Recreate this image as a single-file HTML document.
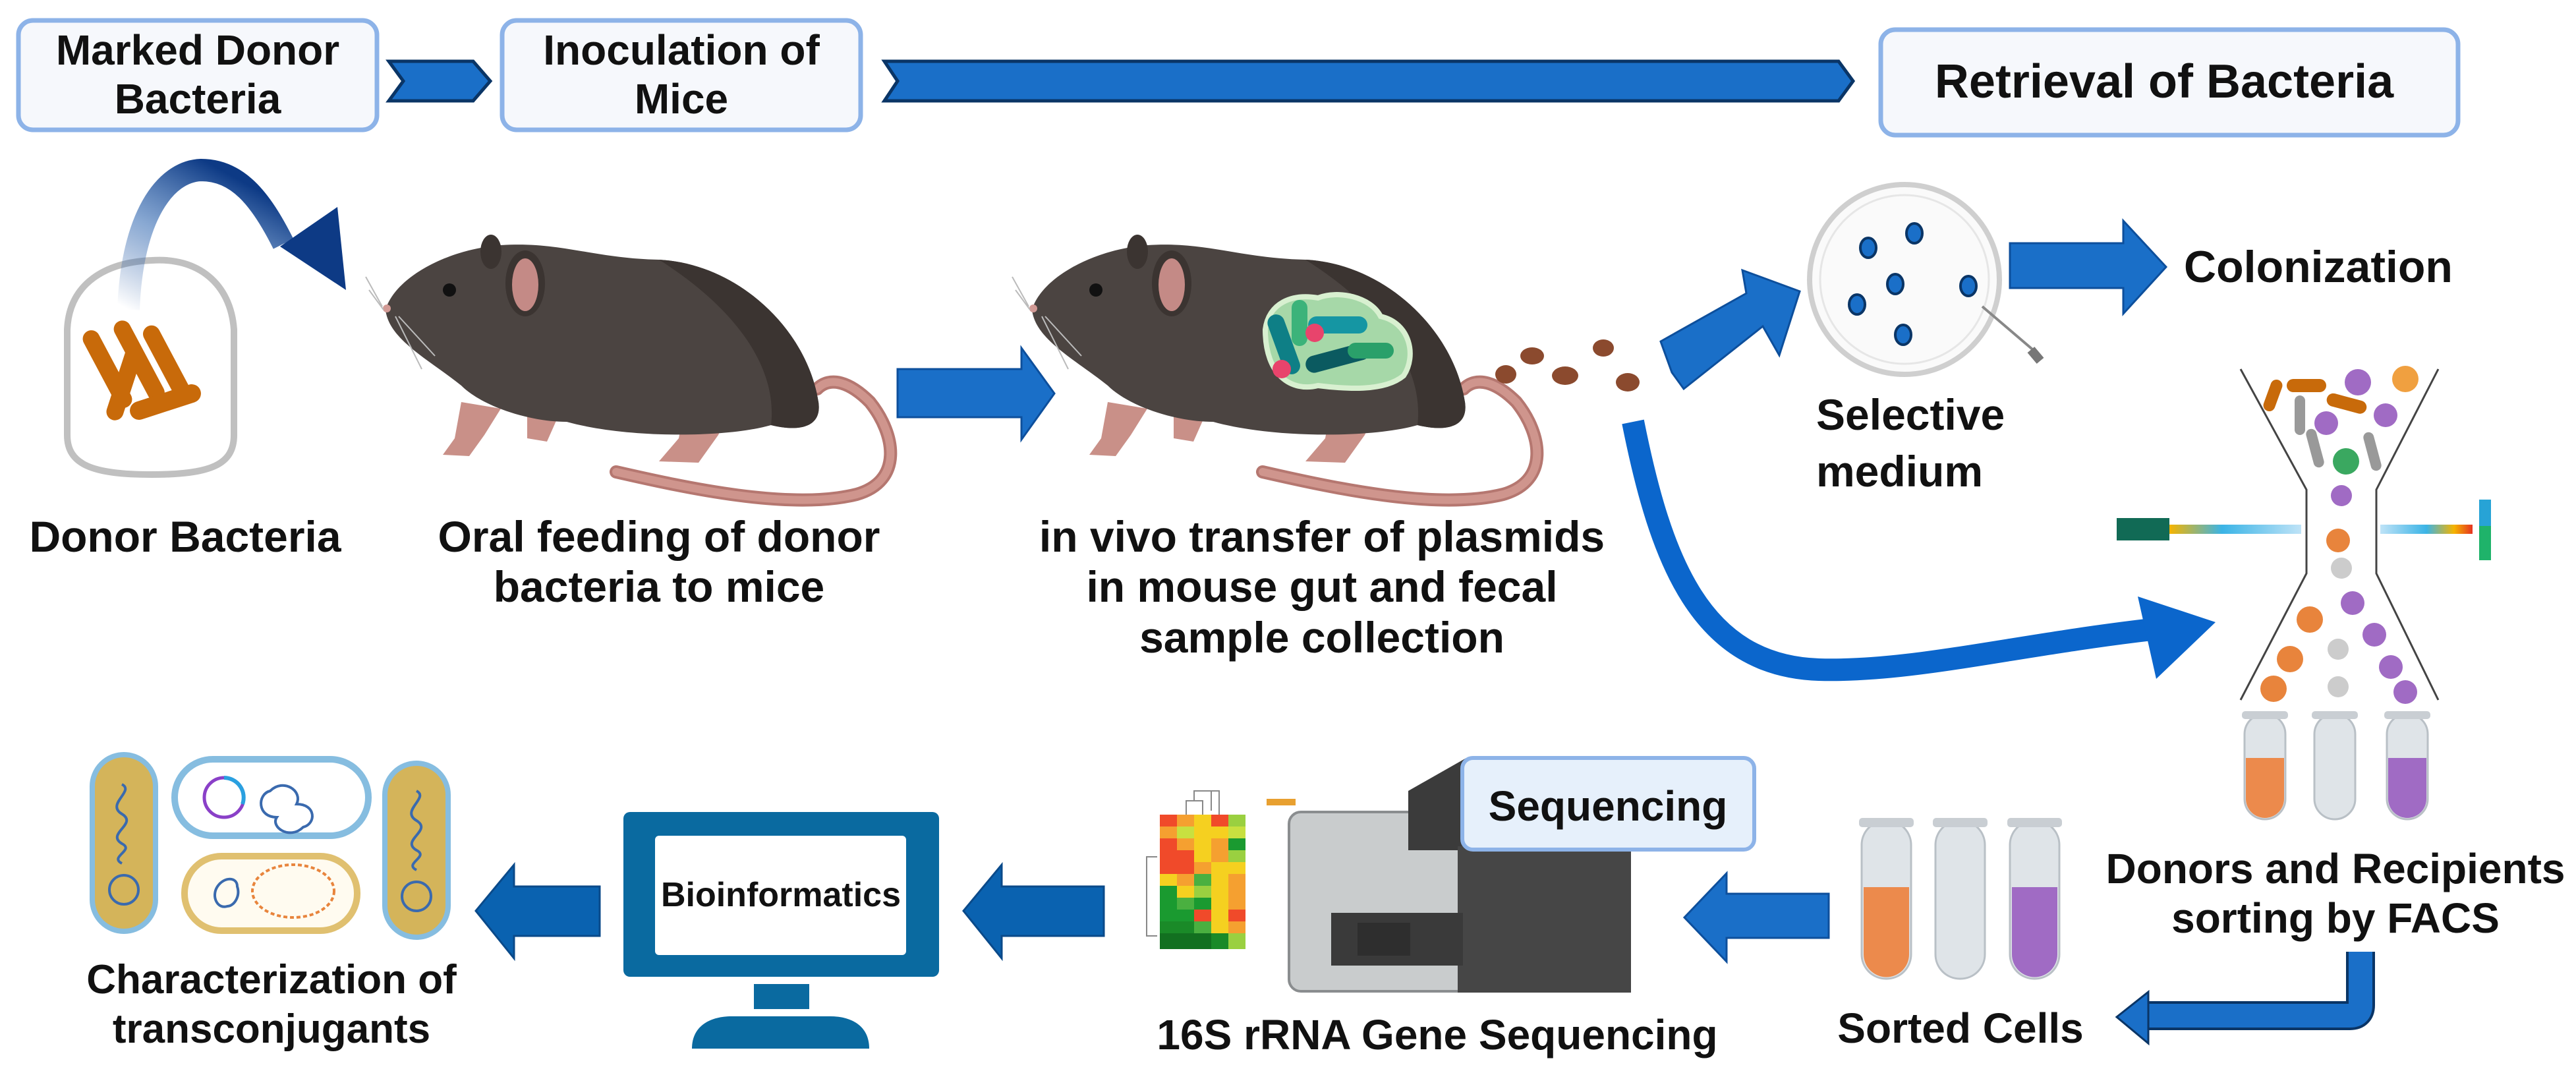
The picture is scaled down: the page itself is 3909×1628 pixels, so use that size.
<!DOCTYPE html>
<html><head><meta charset="utf-8"><style>
html,body{margin:0;padding:0;background:#fff}
svg{display:block}
text{font-family:"Liberation Sans",Arial,sans-serif;font-weight:bold;fill:#111}
</style></head><body>
<svg width="3909" height="1628" viewBox="0 0 3909 1628" xmlns="http://www.w3.org/2000/svg">
<defs>
<linearGradient id="fade" x1="0" y1="1" x2="0.6" y2="0">
<stop offset="0" stop-color="#1c4f9c" stop-opacity="0"/>
<stop offset="0.5" stop-color="#3a6fb5" stop-opacity="0.6"/>
<stop offset="1" stop-color="#0d3a85"/>
</linearGradient>
<linearGradient id="beamL" x1="0" x2="1"><stop offset="0" stop-color="#f5b400"/><stop offset="0.4" stop-color="#3bb4e6"/><stop offset="1" stop-color="#bfe3f7"/></linearGradient>
<linearGradient id="beamR" x1="0" x2="1"><stop offset="0" stop-color="#bfe3f7"/><stop offset="0.5" stop-color="#3bb4e6"/><stop offset="0.8" stop-color="#f5b400"/><stop offset="1" stop-color="#e53322"/></linearGradient>
<g id="mouse">
<path d="M935,716 C1040,740 1200,775 1300,750 C1370,730 1360,660 1320,610 C1290,580 1260,570 1240,590" fill="none" stroke="#b57770" stroke-width="20" stroke-linecap="round"/>
<path d="M935,716 C1040,740 1200,775 1300,750 C1370,730 1360,660 1320,610 C1290,580 1260,570 1240,590" fill="none" stroke="#cf958d" stroke-width="12" stroke-linecap="round"/>
<path d="M700,610 L690,665 L672,690 L712,692 L735,660 L760,620 Z" fill="#c99088"/>
<path d="M1040,610 L1030,665 L1000,700 L1060,702 L1090,660 L1110,615 Z" fill="#c99088"/>
<path d="M800,620 L800,665 L830,670 L850,625 Z" fill="#c99088"/>
<path d="M585,470 C600,420 680,378 760,372 C850,366 900,392 1000,394 C1120,400 1225,500 1242,610 C1248,650 1210,655 1170,645 C1100,665 950,665 860,640 C800,640 730,615 700,585 C650,545 590,515 585,470 Z" fill="#4b4441"/>
<path d="M1000,394 C1120,400 1225,500 1242,610 C1248,650 1210,655 1170,645 C1180,560 1120,470 1000,394 Z" fill="#3b3431"/>
<ellipse cx="745" cy="382" rx="16" ry="26" fill="#3b3431"/>
<ellipse cx="797" cy="430" rx="30" ry="50" fill="#3b3431"/>
<ellipse cx="797" cy="432" rx="20" ry="40" fill="#c48a86"/>
<circle cx="682" cy="440" r="10" fill="#111"/>
<circle cx="587" cy="468" r="6" fill="#d29a95"/>
<path d="M580,465 L555,420 M582,470 L560,440 M600,480 L640,560 M605,480 L660,540" stroke="#bbb" stroke-width="2" fill="none"/>
</g>
<g id="tube">
<rect x="0" y="0" width="75" height="240" rx="37" fill="#dfe4e8" stroke="#b9c0c6" stroke-width="3"/>
<rect x="-4" y="-4" width="83" height="14" rx="5" fill="#c9ced3"/>
</g>
<g id="stube">
<rect x="0" y="0" width="62" height="160" rx="31" fill="#dfe4e8" stroke="#b9c0c6" stroke-width="3"/>
<rect x="-4" y="-4" width="70" height="12" rx="5" fill="#c9ced3"/>
</g>
</defs>

<!-- top row -->
<rect x="28" y="31" width="544" height="166" rx="22" fill="#f6f8fc" stroke="#8db3e8" stroke-width="7"/>
<text x="300" y="98" font-size="64" text-anchor="middle">Marked Donor</text>
<text x="300" y="172" font-size="64" text-anchor="middle">Bacteria</text>
<polygon points="590,93 718,93 744,123 718,153 590,153 612,123" fill="#1a6fc8" stroke="#0a3566" stroke-width="5"/>
<rect x="762" y="31" width="544" height="166" rx="22" fill="#f6f8fc" stroke="#8db3e8" stroke-width="7"/>
<text x="1034" y="98" font-size="64" text-anchor="middle">Inoculation of</text>
<text x="1034" y="172" font-size="64" text-anchor="middle">Mice</text>
<polygon points="1342,93 2790,93 2812,123 2790,153 1342,153 1362,123" fill="#1a6fc8" stroke="#0a3566" stroke-width="5"/>
<rect x="2854" y="45" width="876" height="160" rx="22" fill="#f6f8fc" stroke="#8db3e8" stroke-width="7"/>
<text x="3284" y="148" font-size="72" text-anchor="middle">Retrieval of Bacteria</text>

<!-- donor bag -->
<path d="M230,395 C300,390 350,430 355,500 L355,660 C355,705 320,720 230,720 C140,720 102,705 102,660 L102,500 C105,430 160,398 230,395 Z" fill="#fff" stroke="#c0c0c0" stroke-width="10"/>
<g fill="#c86a0a">
<rect x="150" y="495" width="26" height="130" rx="13" transform="rotate(-28 163 560)"/>
<rect x="198" y="480" width="26" height="135" rx="13" transform="rotate(-28 211 547)"/>
<rect x="240" y="488" width="26" height="125" rx="13" transform="rotate(-28 253 550)"/>
<rect x="176" y="520" width="26" height="120" rx="13" transform="rotate(18 189 580)"/>
<rect x="195" y="596" width="112" height="28" rx="14" transform="rotate(-18 251 610)"/>
</g>
<path d="M195,470 C200,330 250,260 305,258 C360,258 395,300 430,370" fill="none" stroke="url(#fade)" stroke-width="34"/>
<polygon points="512,314 525,440 425,374" fill="#0d3a85"/>

<!-- mice -->
<use href="#mouse"/>
<use href="#mouse" transform="translate(981,0)"/>
<path d="M1920,500 C1925,460 1960,445 2000,452 C2030,440 2080,450 2095,480 C2140,490 2150,540 2130,570 C2100,595 2040,590 2000,585 C1960,595 1920,570 1920,500 Z" fill="#a6d8a8" stroke="#d8f0d0" stroke-width="8"/>
<g>
<rect x="1935" y="475" width="26" height="95" rx="13" fill="#0e7f86" transform="rotate(-20 1948 522)"/>
<rect x="1985" y="480" width="90" height="26" rx="13" fill="#1596a3"/>
<rect x="1980" y="530" width="100" height="26" rx="13" fill="#0b5a60" transform="rotate(-15 2030 543)"/>
<rect x="2045" y="520" width="70" height="24" rx="12" fill="#2aa06a"/>
<rect x="1960" y="455" width="24" height="70" rx="12" fill="#3cb37a"/>
<circle cx="1995" cy="505" r="14" fill="#e8446c"/>
<circle cx="1945" cy="560" r="14" fill="#e8446c"/>
</g>
<!-- feces -->
<g fill="#8b4a2e">
<ellipse cx="2285" cy="568" rx="16" ry="14"/><ellipse cx="2325" cy="540" rx="18" ry="13"/>
<ellipse cx="2375" cy="570" rx="20" ry="14"/><ellipse cx="2433" cy="528" rx="16" ry="13"/>
<ellipse cx="2470" cy="580" rx="18" ry="14"/>
</g>
<!-- arrow between mice -->
<polygon points="1362,560 1550,560 1550,528 1600,597 1550,667 1550,633 1362,633" fill="#1a6fc8" stroke="#0d4f9c" stroke-width="3"/>
<!-- diagonal arrow to petri -->
<polygon points="2537,565 2520,518 2650,445 2644,410 2731,442 2700,539 2675,495 2555,590" fill="#1a6fc8" stroke="#0d4f9c" stroke-width="3"/>
<!-- petri -->
<circle cx="2890" cy="424" r="144" fill="#fafafa" stroke="#cfcfcf" stroke-width="8"/>
<circle cx="2890" cy="424" r="128" fill="none" stroke="#e6e6e6" stroke-width="3"/>
<g fill="#1a6fc8" stroke="#0a3566" stroke-width="4">
<ellipse cx="2905" cy="354" rx="12" ry="15"/><ellipse cx="2835" cy="376" rx="12" ry="15"/>
<ellipse cx="2876" cy="431" rx="12" ry="15"/><ellipse cx="2987" cy="434" rx="12" ry="15"/>
<ellipse cx="2818" cy="462" rx="12" ry="15"/><ellipse cx="2888" cy="508" rx="12" ry="15"/>
</g>
<line x1="3008" y1="465" x2="3090" y2="535" stroke="#888" stroke-width="4"/>
<rect x="3082" y="528" width="14" height="22" fill="#777" transform="rotate(-40 3089 539)"/>
<!-- colonization arrow -->
<polygon points="3050,369 3222,369 3222,335 3287,405 3222,476 3222,437 3050,437" fill="#1a6fc8" stroke="#0d4f9c" stroke-width="3"/>
<text x="3518" y="428" font-size="68" text-anchor="middle">Colonization</text>
<text x="2756" y="652" font-size="66">Selective</text>
<text x="2756" y="738" font-size="66">medium</text>

<!-- labels middle -->
<text x="281" y="837" font-size="66" text-anchor="middle">Donor Bacteria</text>
<text x="1000" y="837" font-size="66" text-anchor="middle">Oral feeding of donor</text>
<text x="1000" y="913" font-size="66" text-anchor="middle">bacteria to mice</text>
<text x="2006" y="837" font-size="66" text-anchor="middle">in vivo transfer of plasmids</text>
<text x="2006" y="913" font-size="66" text-anchor="middle">in mouse gut and fecal</text>
<text x="2006" y="990" font-size="66" text-anchor="middle">sample collection</text>

<!-- big curved arrow -->
<path d="M2478,640 C2520,850 2580,1010 2760,1016 C2900,1020 3050,980 3265,955" fill="none" stroke="#0b66cc" stroke-width="34"/>
<polygon points="3362,944 3244,905 3272,1030" fill="#0b66cc"/>

<!-- FACS funnel -->
<g stroke="#444" stroke-width="3" fill="none">
<polyline points="3400,560 3500,743 3500,870 3400,1062"/>
<polyline points="3700,560 3606,743 3606,870 3700,1062"/>
</g>
<rect x="3212" y="786" width="80" height="34" fill="#116a55"/>
<rect x="3292" y="796" width="200" height="14" fill="url(#beamL)"/>
<rect x="3612" y="796" width="140" height="14" fill="url(#beamR)"/>
<rect x="3762" y="758" width="18" height="92" fill="#1fb36a"/>
<rect x="3762" y="758" width="18" height="40" fill="#27a3d6"/>
<g>
<rect x="3440" y="575" width="18" height="50" rx="9" fill="#c86a0a" transform="rotate(20 3449 600)"/>
<rect x="3470" y="575" width="60" height="20" rx="10" fill="#c86a0a"/>
<rect x="3530" y="602" width="62" height="20" rx="10" fill="#c86a0a" transform="rotate(15 3560 612)"/>
<circle cx="3578" cy="580" r="20" fill="#a06bc4"/><circle cx="3650" cy="575" r="20" fill="#f0a040"/>
<circle cx="3530" cy="642" r="18" fill="#a06bc4"/><circle cx="3620" cy="630" r="18" fill="#a06bc4"/>
<rect x="3482" y="600" width="16" height="60" rx="8" fill="#999"/>
<rect x="3505" y="650" width="16" height="60" rx="8" fill="#999" transform="rotate(-15 3513 680)"/>
<rect x="3592" y="655" width="16" height="60" rx="8" fill="#999" transform="rotate(-15 3600 685)"/>
<circle cx="3560" cy="700" r="20" fill="#3aa860"/>
<circle cx="3553" cy="752" r="16" fill="#a06bc4"/>
<circle cx="3548" cy="820" r="18" fill="#e8843c"/>
<circle cx="3553" cy="862" r="16" fill="#ccc"/>
<circle cx="3570" cy="915" r="18" fill="#a06bc4"/>
<circle cx="3505" cy="940" r="20" fill="#e8843c"/>
<circle cx="3603" cy="963" r="18" fill="#a06bc4"/>
<circle cx="3548" cy="985" r="16" fill="#ccc"/>
<circle cx="3475" cy="1000" r="20" fill="#e8843c"/>
<circle cx="3628" cy="1012" r="18" fill="#a06bc4"/>
<circle cx="3450" cy="1045" r="20" fill="#e8843c"/>
<circle cx="3548" cy="1042" r="16" fill="#ccc"/>
<circle cx="3650" cy="1050" r="18" fill="#a06bc4"/>
</g>
<use href="#stube" x="3406" y="1083"/>
<path d="M3408,1150 H3466 V1212 A29,29 0 0 1 3408,1212 Z" fill="#ec8a4c"/>
<use href="#stube" x="3512" y="1083"/>
<use href="#stube" x="3622" y="1083"/>
<path d="M3624,1150 H3682 V1212 A29,29 0 0 1 3624,1212 Z" fill="#a06bc4"/>
<text x="3544" y="1340" font-size="64" text-anchor="middle">Donors and Recipients</text>
<text x="3544" y="1415" font-size="64" text-anchor="middle">sorting by FACS</text>
<!-- hook arrow -->
<path d="M3582,1444 L3582,1525 Q3582,1541 3566,1541 L3250,1541" fill="none" stroke="#0a3566" stroke-width="44"/>
<path d="M3582,1444 L3582,1525 Q3582,1541 3566,1541 L3250,1541" fill="none" stroke="#1a6fc8" stroke-width="36"/>
<polygon points="3212,1543 3260,1505 3260,1583" fill="#1a6fc8" stroke="#0a3566" stroke-width="3"/>

<!-- sorted tubes -->
<use href="#tube" x="2825" y="1245"/>
<path d="M2828,1346 H2897 V1448 A34,34 0 0 1 2828,1448 Z" fill="#ec8a4c"/>
<use href="#tube" x="2937" y="1245"/>
<use href="#tube" x="3050" y="1245"/>
<path d="M3053,1346 H3122 V1448 A34,34 0 0 1 3053,1448 Z" fill="#a06bc4"/>
<text x="2975" y="1582" font-size="64" text-anchor="middle">Sorted Cells</text>
<!-- arrow to sequencer -->
<polygon points="2775,1356 2620,1356 2620,1325 2556,1392 2620,1459 2620,1423 2775,1423" fill="#1a6fc8" stroke="#0d4f9c" stroke-width="3"/>

<!-- sequencer -->
<rect x="1956" y="1232" width="280" height="272" rx="18" fill="#c9cccd" stroke="#8a8d8f" stroke-width="4"/>
<polygon points="2137,1200 2225,1150 2225,1290 2137,1290" fill="#3b3b3b"/>
<rect x="2212" y="1284" width="263" height="222" fill="#464646"/>
<rect x="2020" y="1385" width="200" height="80" fill="#3a3a3a"/>
<rect x="2060" y="1400" width="80" height="50" fill="#2e2e2e"/>
<rect x="2219" y="1150" width="443" height="139" rx="16" fill="#e6f0fb" stroke="#8db3e8" stroke-width="6"/>
<text x="2440" y="1245" font-size="64" text-anchor="middle">Sequencing</text>
<g stroke="none">
<rect x="1760" y="1236" width="26" height="18" fill="#f04a2a"/><rect x="1786" y="1236" width="26" height="18" fill="#f5a030"/><rect x="1812" y="1236" width="26" height="18" fill="#f5d020"/><rect x="1838" y="1236" width="26" height="18" fill="#f04a2a"/><rect x="1864" y="1236" width="26" height="18" fill="#9ad040"/>
<rect x="1760" y="1254" width="26" height="18" fill="#f5a030"/><rect x="1786" y="1254" width="26" height="18" fill="#c8e040"/><rect x="1812" y="1254" width="26" height="18" fill="#f5d020"/><rect x="1838" y="1254" width="26" height="18" fill="#f5d020"/><rect x="1864" y="1254" width="26" height="18" fill="#c8e040"/>
<rect x="1760" y="1272" width="26" height="18" fill="#f04a2a"/><rect x="1786" y="1272" width="26" height="18" fill="#f5a030"/><rect x="1812" y="1272" width="26" height="18" fill="#f5d020"/><rect x="1838" y="1272" width="26" height="18" fill="#f5a030"/><rect x="1864" y="1272" width="26" height="18" fill="#1a9a30"/>
<rect x="1760" y="1290" width="26" height="18" fill="#f04a2a"/><rect x="1786" y="1290" width="26" height="18" fill="#f04a2a"/><rect x="1812" y="1290" width="26" height="18" fill="#f5d020"/><rect x="1838" y="1290" width="26" height="18" fill="#f5a030"/><rect x="1864" y="1290" width="26" height="18" fill="#9ad040"/>
<rect x="1760" y="1308" width="26" height="18" fill="#f04a2a"/><rect x="1786" y="1308" width="26" height="18" fill="#f04a2a"/><rect x="1812" y="1308" width="26" height="18" fill="#f5a030"/><rect x="1838" y="1308" width="26" height="18" fill="#f5d020"/><rect x="1864" y="1308" width="26" height="18" fill="#f5d020"/>
<rect x="1760" y="1326" width="26" height="18" fill="#f5d020"/><rect x="1786" y="1326" width="26" height="18" fill="#f5a030"/><rect x="1812" y="1326" width="26" height="18" fill="#4ab040"/><rect x="1838" y="1326" width="26" height="18" fill="#f5d020"/><rect x="1864" y="1326" width="26" height="18" fill="#f5a030"/>
<rect x="1760" y="1344" width="26" height="18" fill="#1a9a30"/><rect x="1786" y="1344" width="26" height="18" fill="#f5d020"/><rect x="1812" y="1344" width="26" height="18" fill="#9ad040"/><rect x="1838" y="1344" width="26" height="18" fill="#f5d020"/><rect x="1864" y="1344" width="26" height="18" fill="#f5a030"/>
<rect x="1760" y="1362" width="26" height="18" fill="#1a9a30"/><rect x="1786" y="1362" width="26" height="18" fill="#4ab040"/><rect x="1812" y="1362" width="26" height="18" fill="#1a9a30"/><rect x="1838" y="1362" width="26" height="18" fill="#f5d020"/><rect x="1864" y="1362" width="26" height="18" fill="#f5a030"/>
<rect x="1760" y="1380" width="26" height="18" fill="#1a9a30"/><rect x="1786" y="1380" width="26" height="18" fill="#1a9a30"/><rect x="1812" y="1380" width="26" height="18" fill="#f04a2a"/><rect x="1838" y="1380" width="26" height="18" fill="#f5d020"/><rect x="1864" y="1380" width="26" height="18" fill="#f04a2a"/>
<rect x="1760" y="1398" width="26" height="18" fill="#1a8a28"/><rect x="1786" y="1398" width="26" height="18" fill="#1a8a28"/><rect x="1812" y="1398" width="26" height="18" fill="#4ab040"/><rect x="1838" y="1398" width="26" height="18" fill="#f5d020"/><rect x="1864" y="1398" width="26" height="18" fill="#f5a030"/>
<rect x="1760" y="1416" width="26" height="24" fill="#127020"/><rect x="1786" y="1416" width="26" height="24" fill="#127020"/><rect x="1812" y="1416" width="26" height="24" fill="#127020"/><rect x="1838" y="1416" width="26" height="24" fill="#1a8a28"/><rect x="1864" y="1416" width="26" height="24" fill="#9ad040"/>
</g>
<path d="M1800,1236 V1215 H1825 V1236 M1812,1215 V1200 H1850 V1236 M1838,1200 V1230" fill="none" stroke="#888" stroke-width="2"/>
<path d="M1756,1300 H1740 V1420 H1756" fill="none" stroke="#888" stroke-width="2"/>
<rect x="1922" y="1212" width="44" height="10" fill="#e8a030"/>
<text x="2181" y="1592" font-size="64" text-anchor="middle">16S rRNA Gene Sequencing</text>

<!-- arrows bottom -->
<polygon points="1675,1345 1520,1345 1520,1312 1462,1382 1520,1454 1520,1420 1675,1420" fill="#0a62b0" stroke="#0a4a8a" stroke-width="3"/>
<polygon points="910,1345 780,1345 780,1312 722,1382 780,1454 780,1420 910,1420" fill="#0a62b0" stroke="#0a4a8a" stroke-width="3"/>

<!-- monitor -->
<rect x="946" y="1232" width="479" height="250" rx="10" fill="#0a6aa0"/>
<rect x="994" y="1268" width="381" height="181" rx="6" fill="#fff"/>
<text x="1185" y="1375" font-size="52" text-anchor="middle">Bioinformatics</text>
<rect x="1144" y="1493" width="84" height="38" fill="#0a6aa0"/>
<path d="M1050,1591 C1050,1555 1080,1542 1110,1542 L1260,1542 C1290,1542 1319,1555 1319,1591 Z" fill="#0a6aa0"/>

<!-- transconjugants -->
<rect x="140" y="1145" width="96" height="268" rx="48" fill="#d4b45a" stroke="#86bde0" stroke-width="8"/>
<rect x="584" y="1158" width="96" height="264" rx="48" fill="#d4b45a" stroke="#86bde0" stroke-width="8"/>
<rect x="265" y="1152" width="294" height="116" rx="58" fill="#fff" stroke="#86bde0" stroke-width="10"/>
<rect x="280" y="1299" width="262" height="113" rx="56" fill="#fffbf0" stroke="#e0c070" stroke-width="10"/>
<g fill="none" stroke="#3a6aae" stroke-width="4">
<path d="M185,1190 c20,10 -25,30 0,45 c25,15 -25,30 0,45 c20,10 -20,20 0,30"/>
<path d="M632,1200 c20,10 -25,30 0,45 c25,15 -25,30 0,45 c20,10 -20,20 0,30"/>
<circle cx="188" cy="1350" r="22"/><circle cx="632" cy="1360" r="22"/>
<path d="M410,1200 c20,-20 50,0 40,20 c30,0 30,30 10,35 c-20,20 -50,0 -40,-15 c-30,0 -30,-35 -10,-40 z"/>
<path d="M330,1345 c10,-15 30,-15 30,0 c5,15 -5,30 -15,30 c-15,5 -25,-15 -15,-30 z"/>
</g>
<circle cx="340" cy="1210" r="30" fill="none" stroke="#8a40c8" stroke-width="5"/>
<path d="M340,1180 A30,30 0 0 1 368,1220" fill="none" stroke="#2aa0e0" stroke-width="6"/>
<ellipse cx="445" cy="1352" rx="62" ry="40" fill="none" stroke="#e8843c" stroke-width="4" stroke-dasharray="6,4"/>
<text x="412" y="1507" font-size="62" text-anchor="middle">Characterization of</text>
<text x="412" y="1582" font-size="62" text-anchor="middle">transconjugants</text>
</svg>
</body></html>
